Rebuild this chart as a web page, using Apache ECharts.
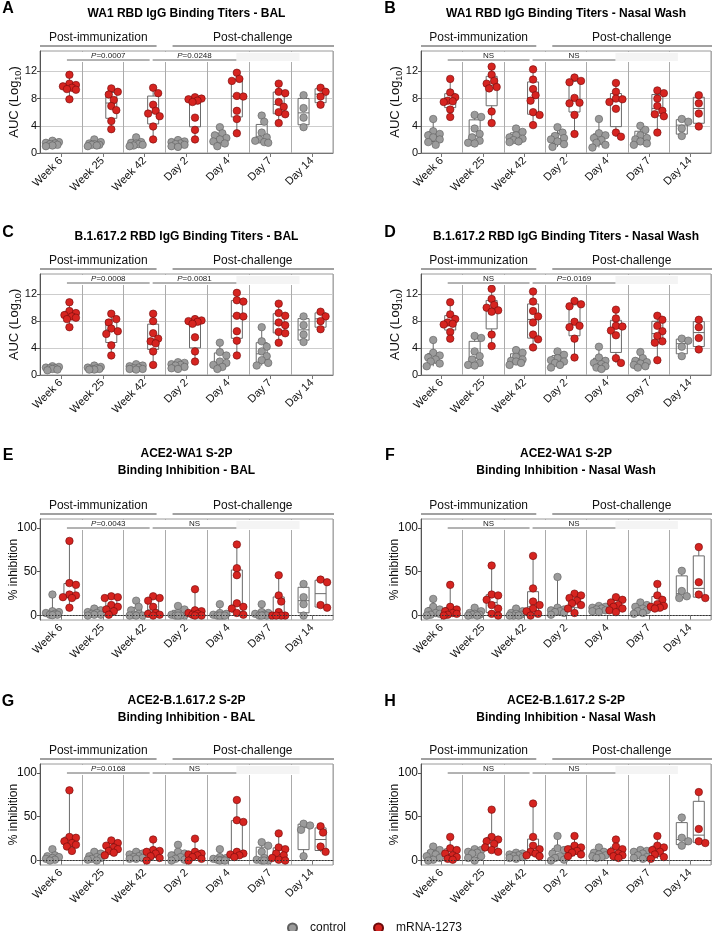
<!DOCTYPE html>
<html><head><meta charset="utf-8">
<script src="https://cdn.jsdelivr.net/npm/echarts@6/dist/echarts.min.js"></script>
<style>html,body{margin:0;padding:0;background:#fff}#c{width:718px;height:931px}</style>
</head><body><div id="c"></div><script>
// ---------------- DATA ----------------
const timepoints = ['Week 6','Week 25','Week 42','Day 2','Day 4','Day 7','Day 14'];
const aucTicks = [0,4,8,12];
const inhTicks = [0,50,100];

const titleA = 'WA1 RBD IgG Binding Titers - BAL';
const titleB = 'WA1 RBD IgG Binding Titers - Nasal Wash';
const titleC = 'B.1.617.2 RBD IgG Binding Titers - BAL';
const titleD = 'B.1.617.2 RBD IgG Binding Titers - Nasal Wash';
const titleE = 'ACE2-WA1 S-2P\nBinding Inhibition - BAL';
const titleF = 'ACE2-WA1 S-2P\nBinding Inhibition - Nasal Wash';
const titleG = 'ACE2-B.1.617.2 S-2P\nBinding Inhibition - BAL';
const titleH = 'ACE2-B.1.617.2 S-2P\nBinding Inhibition - Nasal Wash';

const pA = ['P=0.0007','P=0.0248'];
const pB = ['NS','NS'];
const pC = ['P=0.0008','P=0.0081'];
const pD = ['NS','P=0.0169'];
const pE = ['P=0.0043','NS'];
const pF = ['NS','NS'];
const pG = ['P=0.0168','NS'];
const pH = ['NS','NS'];

const A_control = [
 [1.8,1.6,1.5,1.4,1.3,1.2,1.1,1.0],
 [2.0,1.6,1.4,1.3,1.2,1.2,1.1,1.0],
 [2.3,1.6,1.5,1.4,1.3,1.2,1.1,1.0],
 [1.9,1.7,1.6,1.4,1.3,1.2,1.0,0.9],
 [3.8,2.9,2.6,2.2,2.0,1.7,1.4,1.0],
 [5.5,4.6,3.0,2.3,2.0,1.8,1.6,1.5],
 [8.5,6.6,5.2,3.8]];
const A_mrna = [
 [11.5,10.2,10.0,9.8,9.6,9.4,9.3,7.9],
 [9.5,9.0,8.6,7.8,6.9,6.3,4.7,3.5],
 [9.6,8.8,7.1,6.2,5.8,5.4,3.9,2.0],
 [8.2,8.0,7.9,7.7,7.5,5.2,3.4,2.0],
 [11.8,10.9,10.6,8.4,8.3,6.2,5.0,2.9],
 [10.2,9.0,8.8,7.5,6.8,6.0,5.7,4.4],
 [9.6,9.0,8.3,7.1]];
const B_control = [
 [5.0,3.2,2.8,2.6,2.3,2.0,1.6,1.2],
 [5.6,5.3,3.6,2.8,2.3,1.8,1.5,1.4],
 [3.6,3.1,2.6,2.3,2.1,1.9,1.7,1.6],
 [3.8,3.0,2.5,2.2,2.0,1.7,1.3,0.9],
 [5.0,2.9,2.6,2.2,1.9,1.5,1.2,0.8],
 [4.0,3.4,2.6,2.2,2.0,1.7,1.4,1.2],
 [5.0,4.6,3.6,2.5]];
const B_mrna = [
 [10.9,8.9,8.2,7.7,7.6,7.5,6.4,5.3],
 [12.7,11.5,10.6,10.2,9.7,9.5,6.1,4.4],
 [12.3,10.8,9.4,8.5,7.7,6.0,5.6,4.1],
 [11.1,10.6,10.4,8.1,7.4,7.3,5.6,2.8],
 [10.3,9.0,8.0,7.9,7.5,6.5,3.0,2.4],
 [9.2,8.8,8.0,6.9,6.2,5.7,5.4,3.0],
 [8.5,7.3,5.8,3.9]];
const C_control = [
 [1.3,1.2,1.1,1.0,1.0,0.9,0.8,0.7],
 [1.4,1.2,1.1,1.0,0.9,0.9,0.8,0.8],
 [1.6,1.4,1.3,1.1,1.0,0.9,0.9,0.8],
 [1.9,1.8,1.6,1.5,1.4,1.2,1.0,0.9],
 [4.8,3.4,2.9,2.0,1.8,1.5,1.2,0.9],
 [7.1,5.0,4.2,3.5,2.8,2.2,1.8,1.4],
 [8.7,7.4,6.0,4.9]];
const C_mrna = [
 [10.8,9.5,9.2,8.9,8.7,8.5,8.3,7.1],
 [9.1,8.3,7.8,6.9,6.5,6.1,4.4,2.9],
 [9.1,8.0,6.2,5.4,5.0,4.7,3.5,1.5],
 [8.3,8.1,8.0,7.9,7.6,5.6,3.5,2.0],
 [12.2,11.1,10.9,8.8,8.7,6.5,5.1,2.9],
 [10.6,9.2,8.8,7.8,7.4,6.4,6.2,4.8],
 [9.4,8.7,8.0,6.8]];
const D_control = [
 [5.2,3.3,2.9,2.6,2.3,2.0,1.7,1.3],
 [5.8,5.5,3.5,2.8,2.3,1.8,1.5,1.4],
 [3.7,3.3,2.7,2.3,2.1,2.0,1.8,1.5],
 [3.5,3.0,2.5,2.2,2.0,1.8,1.5,1.1],
 [4.2,2.6,2.1,1.8,1.6,1.3,1.1,0.9],
 [3.4,2.5,2.1,1.9,1.7,1.5,1.3,1.1],
 [5.4,5.1,4.2,2.8]];
const D_mrna = [
 [10.8,9.0,8.3,7.8,7.6,7.5,6.4,5.4],
 [12.8,11.3,10.4,10.0,9.6,9.4,6.0,4.3],
 [12.4,10.9,9.5,8.7,7.8,6.0,5.3,4.1],
 [11.0,10.5,10.2,7.9,7.3,7.1,5.4,2.6],
 [9.7,8.4,7.3,7.2,6.6,5.9,2.5,1.8],
 [8.8,8.2,7.3,6.5,5.8,5.0,4.8,2.2],
 [8.2,7.1,5.5,3.8]];
const E_control = [
 [24,5,4,3,2,1,1,0.5],
 [8,6,4,3,2,1,1,0],
 [17,10,6,2,1,0,0,0],
 [11,7,3,1,0,0,0,0],
 [13,3,2,1,0,0,0,0],
 [13,4,3,2,1,0,0,0],
 [36,21,13,0]];
const E_mrna = [
 [85,37,35,24,23,21,20,9],
 [22,21,20,12,10,7,5,1],
 [22,20,17,10,3,2,1,0],
 [30,6,5,3,2,1,0,0],
 [81,54,46,14,10,8,3,1],
 [46,23,16,4,0,0,0,0],
 [41,38,12,9]];
const F_control = [
 [19,10,7,5,3,2,1,0],
 [9,5,3,2,1,1,0,0],
 [8,5,3,2,1,0,0,0],
 [44,9,7,6,5,4,3,1],
 [11,10,9,8,7,6,5,4],
 [15,12,10,8,6,5,3,2],
 [51,28,22,20]];
const F_mrna = [
 [35,10,7,5,3,2,1,0],
 [57,24,23,18,12,8,2,0],
 [68,31,16,12,8,5,2,0],
 [25,23,20,17,14,12,8,3],
 [21,18,15,12,10,8,6,4],
 [36,23,18,13,11,10,9,8],
 [78,38,24,20]];
const G_control = [
 [13,6,5,4,3,2,1,0],
 [10,8,5,4,3,2,1,0],
 [10,8,7,5,4,3,2,2],
 [18,10,8,6,4,2,1,0],
 [13,4,3,2,1,1,0,0],
 [21,17,10,3,1,0,0,0],
 [42,40,35,5]];
const G_mrna = [
 [80,27,26,22,20,18,16,11],
 [23,20,17,15,13,11,9,6],
 [24,12,11,10,8,5,3,0],
 [25,10,8,7,6,4,2,0],
 [69,46,44,10,8,7,6,4],
 [31,15,13,8,6,3,1,0],
 [39,32,16,10]];
const H_control = [
 [16,12,9,7,5,3,1,0],
 [13,12,10,9,8,5,3,0],
 [9,8,7,6,5,4,3,2],
 [28,14,12,8,5,3,1,0],
 [15,10,9,7,6,5,4,3],
 [12,11,10,8,6,4,3,2],
 [49,26,22,17]];
const H_mrna = [
 [27,14,12,8,6,4,2,1],
 [58,27,24,22,19,15,12,10],
 [65,27,17,13,10,8,6,5],
 [28,17,15,13,11,9,7,5],
 [24,16,13,10,8,6,5,3],
 [28,17,15,12,10,7,4,2],
 [78,36,22,20]];

// ---------------- LAYOUT / STYLE ----------------
const FONT = "'Liberation Sans', Arial, Helvetica, sans-serif";
const GRAY = '#9b9b9b', GRAY_B = '#5e5e5e', RED = '#d62420', RED_B = '#6e0a0a';
const GROUP_OFF = 8.5, BOX_W = 11, DOT = 7.5;
const COLS = [{L:40, W:293, letterX:8}, {L:421, W:290, letterX:390}];
const ROWS = [
  {T:51,  H:102, titleY:14,  letterY:9,   kind:'auc'},
  {T:274, H:101, titleY:237, letterY:233, kind:'auc'},
  {T:519, H:101, titleY:462, letterY:456, kind:'inh'},
  {T:764, H:101, titleY:709, letterY:702, kind:'inh'}
];
const panels = [
  {letter:'A', title:titleA, control:A_control, mrna:A_mrna, p:pA},
  {letter:'B', title:titleB, control:B_control, mrna:B_mrna, p:pB},
  {letter:'C', title:titleC, control:C_control, mrna:C_mrna, p:pC},
  {letter:'D', title:titleD, control:D_control, mrna:D_mrna, p:pD},
  {letter:'E', title:titleE, control:E_control, mrna:E_mrna, p:pE},
  {letter:'F', title:titleF, control:F_control, mrna:F_mrna, p:pF},
  {letter:'G', title:titleG, control:G_control, mrna:G_mrna, p:pG},
  {letter:'H', title:titleH, control:H_control, mrna:H_mrna, p:pH}
];

function quant(sorted, p){
  const n = sorted.length; const pos = p*(n+1);
  if (pos <= 1) return sorted[0];
  if (pos >= n) return sorted[n-1];
  const lo = Math.floor(pos);
  return sorted[lo-1] + (pos-lo)*(sorted[lo]-sorted[lo-1]);
}
function boxStats(vals){
  const s = vals.slice().sort((a,b)=>a-b);
  return [s[0], quant(s,0.25), quant(s,0.5), quant(s,0.75), s[s.length-1]];
}
// simple beeswarm (pixel layout of dots inside a group)
function swarm(vals, pxPerUnit){
  const placed = [];
  const cands = [0, 2.5, -2.5, 5, -5, 6.5, -6.5];
  const D = 6.3;
  return vals.map(v => {
    const y = v*pxPerUnit;
    let best = 0, bestScore = -1;
    for (const c of cands){
      let md = Infinity;
      for (const p of placed) md = Math.min(md, Math.hypot(p.dx-c, p.y-y));
      if (md >= D){ best = c; break; }
      if (md > bestScore){ bestScore = md; best = c; }
    }
    placed.push({y, dx: best});
    return best;
  });
}
function renderBox(params, api){
  const cat = api.value(0), side = api.value(1);
  const off = side ? GROUP_OFF : -GROUP_OFF;
  const c = k => api.coord([cat, api.value(k)]);
  const pMin=c(2), pQ1=c(3), pMed=c(4), pQ3=c(5), pMax=c(6);
  const x = pMin[0] + off, hw = BOX_W/2;
  const st = {stroke:'#6a6a6a', lineWidth:1};
  return {type:'group', children:[
    {type:'line', shape:{x1:x,y1:pMin[1],x2:x,y2:pQ1[1]}, style:st},
    {type:'line', shape:{x1:x,y1:pQ3[1],x2:x,y2:pMax[1]}, style:st},
    {type:'rect', shape:{x:x-hw,y:pQ3[1],width:BOX_W,height:Math.max(0.5,pQ1[1]-pQ3[1])}, style:{stroke:'#6a6a6a', lineWidth:1, fill:'rgba(255,255,255,0)'}},
    {type:'line', shape:{x1:x-hw,y1:pMed[1],x2:x+hw,y2:pMed[1]}, style:st}
  ]};
}
function gText(x, y, text, font, extra){
  return Object.assign({type:'text', x, y, z:60, silent:true,
    style:Object.assign({text, font, fill:'#111', align:'center', verticalAlign:'middle', textAlign:'center', textVerticalAlign:'middle'}, extra||{})});
}
function gLine(x1, y1, x2, y2, color, w){
  return {type:'line', z:55, silent:true, shape:{x1,y1,x2,y2}, style:{stroke:color, lineWidth:w}};
}
function gRect(x, y, w, h, fill){
  return {type:'rect', z:50, silent:true, shape:{x,y,width:w,height:h}, style:{fill, stroke:null}};
}

const grids=[], xAxes=[], yAxes=[], series=[], graphics=[];
panels.forEach((pn, i) => {
  const col = COLS[i%2], row = ROWS[Math.floor(i/2)];
  const auc = row.kind === 'auc';
  const yr = auc ? {min:0, max:15} : {min:-5, max:110};
  const pxPerUnit = row.H/(yr.max-yr.min);
  grids.push({left:col.L, top:row.T, width:col.W, height:row.H, show:true,
    borderColor:'#9a9a9a', borderWidth:1, backgroundColor:'transparent', containLabel:false, outerBoundsMode:'none'});
  xAxes.push({type:'category', gridIndex:i, data:timepoints, boundaryGap:true,
    axisLine:{show:true, lineStyle:{color:'#777', width:1}},
    axisTick:{show:true, alignWithLabel:true, length:4, inside:false, lineStyle:{color:'#777'}},
    axisLabel:{rotate:45, interval:0, fontSize:11, color:'#111', margin:6, fontFamily:FONT},
    splitLine:{show:true, interval:0, lineStyle:{color:'#ababab', width:1}}});
  yAxes.push({type:'value', gridIndex:i, min:yr.min, max:yr.max,
    interval: auc ? 4 : undefined,
    axisLine:{show:true, lineStyle:{color:'#555'}},
    axisTick:{show:true, length:3, lineStyle:{color:'#555'}, customValues: auc ? aucTicks : inhTicks},
    axisLabel:{fontSize: auc ? 11 : 12, color:'#111', margin:3, fontFamily:FONT,
      customValues: auc ? aucTicks : inhTicks},
    splitLine:{show: auc, lineStyle:{color:'#cdcdcd', width:1}},
    name: auc ? 'AUC (Log{sub|10})' : '% inhibition',
    nameLocation:'middle', nameRotate:90, nameGap: auc ? 17 : 19, nameMoveOverlap:false,
    nameTextStyle:{fontSize: auc ? 13 : 12, color:'#111', fontFamily:FONT, lineHeight: auc ? 17 : 14,
      rich:{sub:{fontSize:9, lineHeight:9, verticalAlign:'bottom', color:'#111', fontFamily:FONT}}}});
  // boxes
  const boxData = [];
  [pn.control, pn.mrna].forEach((grp, side) => grp.forEach((vals, k) => {
    boxData.push([k, side].concat(boxStats(vals)));
  }));
  series.push({type:'custom', name:'box', xAxisIndex:i, yAxisIndex:i, z:1, silent:true,
    renderItem:renderBox, encode:{x:0, y:[2,3,4,5,6]}, data:boxData, animation:false});
  // dots
  [['control', pn.control, GRAY, GRAY_B, -GROUP_OFF], ['mRNA-1273', pn.mrna, RED, RED_B, GROUP_OFF]].forEach(([name, grp, fill, border, off]) => {
    const data = [];
    grp.forEach((vals, k) => {
      const jit = swarm(vals, pxPerUnit);
      vals.forEach((v, j) => data.push({value:[k, v], symbolOffset:[off + jit[j], 0]}));
    });
    const s = {type:'scatter', name, xAxisIndex:i, yAxisIndex:i, z:3, symbol:'circle', symbolSize:DOT,
      itemStyle:{color:fill, borderColor:border, borderWidth:0.6, opacity:1}, data, animation:false,
      emphasis:{disabled:true}};
    if (!auc && name === 'control') {
      s.markLine = {silent:true, symbol:'none', label:{show:false}, animation:false,
        lineStyle:{type:[1.5,1.5], color:'#333', width:1}, data:[{yAxis:0}]};
    }
    series.push(s);
  });
  // annotations
  const cw = col.W/7, cx = k => col.L + cw*(k+0.5), T = row.T;
  graphics.push(gText(col.letterX, row.letterY, pn.letter, `bold 16px ${FONT}`, {fill:'#000'}));
  graphics.push(gText(col.L + col.W/2, row.titleY, pn.title, `bold 12px ${FONT}`, {fill:'#000', lineHeight:17}));
  const b = col.L + 3*cw;
  graphics.push(gLine(col.L, T-5, b-9, T-5, '#444', 1.2));
  graphics.push(gText((col.L + b - 9)/2, T-13.5, 'Post-immunization', `12px ${FONT}`));
  graphics.push(gLine(b+7, T-5, col.L+col.W+1, T-5, '#444', 1.2));
  graphics.push(gText((b + 7 + col.L + col.W)/2, T-13.5, 'Post-challenge', `12px ${FONT}`));
  const maskEnd = col.L + 6.2*cw;
  graphics.push(gRect(cx(0)+5, T+1, maskEnd-(cx(0)+5), 10, '#ffffff'));
  graphics.push(gRect(cx(4)+8, T+2, maskEnd-(cx(4)+8), 8, '#f4f4f4'));
  const pl = [[cx(0)+6, cx(2)+5], [cx(2)+8, cx(4)+8]];
  pl.forEach(([x1, x2], k) => {
    graphics.push(gLine(x1, T+9, x2, T+9, '#666', 1));
    const txt = pn.p[k].replace(/^P/, '{i|P}');
    graphics.push(gText((x1+x2)/2, T+4.5, txt, `8px ${FONT}`,
      {fill:'#222', rich:{i:{fontStyle:'italic', fontSize:8, fontFamily:FONT, fill:'#222'}}}));
  });
});

const chart = echarts.init(document.getElementById('c'), null, {renderer:'canvas'});
chart.setOption({
  animation:false,
  backgroundColor:'#ffffff',
  textStyle:{fontFamily:FONT},
  grid:grids, xAxis:xAxes, yAxis:yAxes, series,
  legend:{data:['control','mRNA-1273'], left:287, top:922, padding:0, orient:'horizontal',
    itemWidth:25, itemHeight:9, itemGap:27, icon:'circle', selectedMode:false,
    textStyle:{fontSize:12, color:'#111', fontFamily:FONT}},
  graphic:{elements:graphics}
});
</script></body></html>
